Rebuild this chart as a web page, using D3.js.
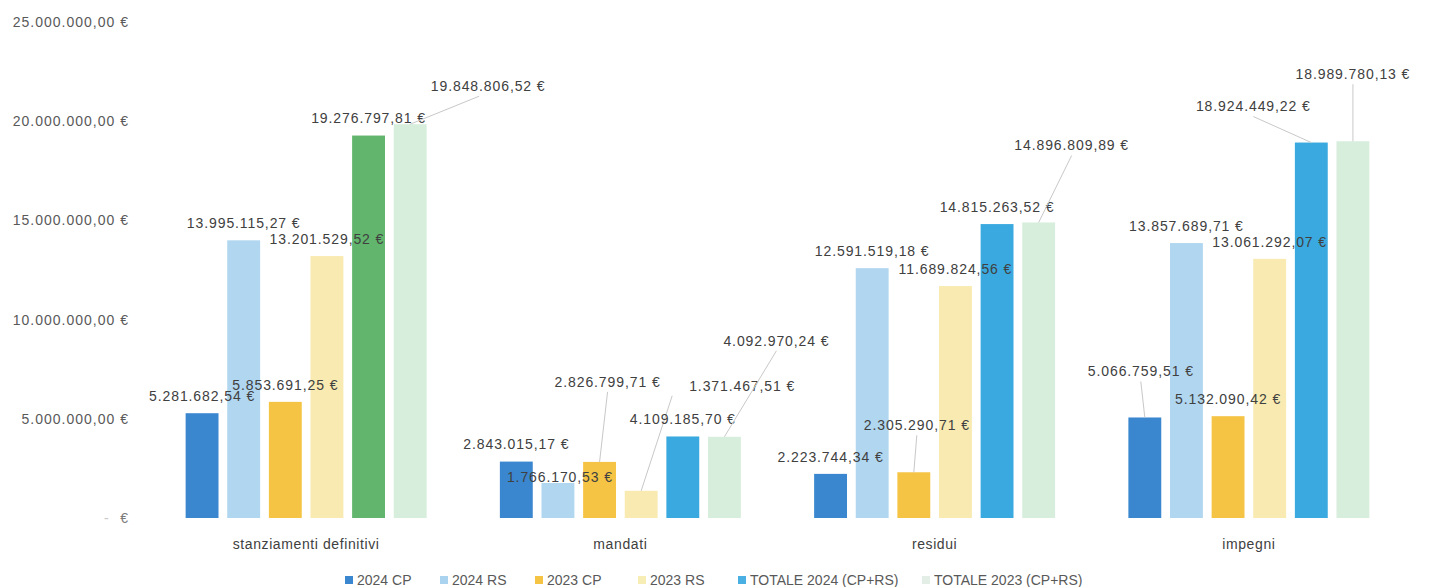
<!DOCTYPE html>
<html>
<head>
<meta charset="utf-8">
<script src="https://cdn.jsdelivr.net/npm/d3@7"></script>
<style>
  html, body { margin: 0; padding: 0; background: #fff; }
  svg { display: block; font-family: "Liberation Sans", Arial, sans-serif; }
</style>
</head>
<body>
<svg id="chart" width="1429" height="587"></svg>
<script>
// data
var categories = ['stanziamenti definitivi', 'mandati', 'residui', 'impegni']
var seriesNames = ['2024 CP', '2024 RS', '2023 CP', '2023 RS', 'TOTALE 2024 (CP+RS)', 'TOTALE 2023 (CP+RS)']
var cp2024 = [5281682.54, 2843015.17, 2223744.34, 5066759.51]
var rs2024 = [13995115.27, 1766170.53, 12591519.18, 13857689.71]
var cp2023 = [5853691.25, 2826799.71, 2305290.71, 5132090.42]
var rs2023 = [13201529.52, 1371467.51, 11689824.56, 13061292.07]
var tot2024 = [19276797.81, 4109185.70, 14815263.52, 18924449.22]
var tot2023 = [19848806.52, 4092970.24, 14896809.89, 18989780.13]
var yTicks = [0, 5000000, 10000000, 15000000, 20000000, 25000000]

var seriesValues = [cp2024, rs2024, cp2023, rs2023, tot2024, tot2023]
var colors = ['#3b87cf', '#b0d6f0', '#f5c444', '#f8eab0', '#3aa9df', '#d6eedb']
var legendColors = ['#3b87cf', '#a9d3ee', '#f5c444', '#f6eeb4', '#4ab0e3', '#e3eee6']

// manually moved callouts (dx, dy of label centre from bar top; lx = leader end shift)
var callouts = {
  '0|5': { dx: 78, dy: -38, lx: -9 },
  '1|1': { dx: 2, dy: -6 },
  '1|2': { dx: 8, dy: -80 },
  '1|3': { dx: 101, dy: -105, lx: -70 },
  '1|5': { dx: 52, dy: -96 },
  '2|2': { dx: 3, dy: -47 },
  '2|5': { dx: 33, dy: -77 },
  '3|0': { dx: -4, dy: -46 },
  '3|4': { dx: -58, dy: -36 },
  '3|5': { dx: 0, dy: -67 }
}

var svg = d3.select('#chart')

var it = d3.formatLocale({ decimal: ',', thousands: '.', grouping: [3], currency: ['', ' €'] })
var fmt = function (v) { return it.format(',.2f')(v) + ' €' }

var x0 = d3.scaleBand().domain(categories).range([149, 1406]).padding(0)
var x1 = d3.scaleBand().domain(d3.range(seriesNames.length))
  .range([0, x0.bandwidth()]).paddingInner(0.21).paddingOuter(0.88)
var y = d3.scaleLinear().domain([0, 25000000]).range([518, 22])

// y axis labels
var yl = svg.append('g').selectAll('text')
  .data(yTicks)
  .join('text')
  .attr('x', 129)
  .attr('y', d => y(d))
  .attr('dy', '0.35em')
  .attr('text-anchor', 'end')
  .attr('fill', '#595959')
  .style('font-size', '14px')
  .style('letter-spacing', '1px')
  .text(d => d === 0 ? '' : fmt(d))

// zero shows as accounting dash
var zero = svg.select('g').filter(function () { return true })
svg.append('text').attr('x', 104).attr('y', y(0)).attr('dy', '0.35em')
  .attr('fill', '#c8c8c8').style('font-size', '14px').text('-')
svg.append('text').attr('x', 128).attr('y', y(0)).attr('dy', '0.35em')
  .attr('text-anchor', 'end').attr('fill', '#7a7a7a').style('font-size', '14px').text('€')

// bars
var cells = []
categories.forEach(function (c, ci) {
  seriesValues.forEach(function (vals, si) {
    cells.push({ c: c, ci: ci, si: si, v: vals[ci] })
  })
})

function barColor(d) {
  // in the first group the 2024 total is drawn green in the original
  if (d.ci === 0 && d.si === 4) return '#62b56d'
  return colors[d.si]
}

svg.append('g').selectAll('rect')
  .data(cells)
  .join('rect')
  .attr('x', d => x0(d.c) + x1(d.si))
  .attr('y', d => y(d.v))
  .attr('width', x1.bandwidth())
  .attr('height', d => y(0) - y(d.v))
  .attr('fill', barColor)

// labels + leader lines
var lab = svg.append('g')
cells.forEach(function (d) {
  var bx = x0(d.c) + x1(d.si) + x1.bandwidth() / 2
  var by = y(d.v)
  var co = callouts[d.ci + '|' + d.si] || { dx: 0, dy: -17 }
  var tx = bx + co.dx, ty = by + co.dy
  if (co.dy < -30) {
    lab.append('line')
      .attr('x1', bx).attr('y1', by)
      .attr('x2', tx + (co.lx || 0)).attr('y2', ty + 10)
      .attr('stroke', '#c8c8c8')
      .attr('stroke-width', 1)
  }
  lab.append('text')
    .attr('x', tx)
    .attr('y', ty)
    .attr('dy', '0.35em')
    .attr('text-anchor', 'middle')
    .attr('fill', '#404040')
    .style('font-size', '14px')
    .style('letter-spacing', '0.9px')
    .text(fmt(d.v))
})

// category labels
svg.append('g').selectAll('text')
  .data(categories)
  .join('text')
  .attr('x', d => x0(d) + x0.bandwidth() / 2)
  .attr('y', 544)
  .attr('dy', '0.35em')
  .attr('text-anchor', 'middle')
  .attr('fill', '#404040')
  .style('font-size', '14px')
  .style('letter-spacing', '0.6px')
  .text(d => d)

// legend
var legendX = [345, 440, 535, 638, 738, 922]
var lg = svg.append('g').selectAll('g')
  .data(seriesNames)
  .join('g')
  .attr('transform', (d, i) => 'translate(' + legendX[i] + ',580)')
lg.append('rect')
  .attr('x', 0).attr('y', -4)
  .attr('width', 8).attr('height', 8)
  .attr('fill', (d, i) => legendColors[i])
lg.append('text')
  .attr('x', 12)
  .attr('dy', '0.35em')
  .attr('fill', '#595959')
  .style('font-size', '14px')
  .text(d => d)
</script>
</body>
</html>
